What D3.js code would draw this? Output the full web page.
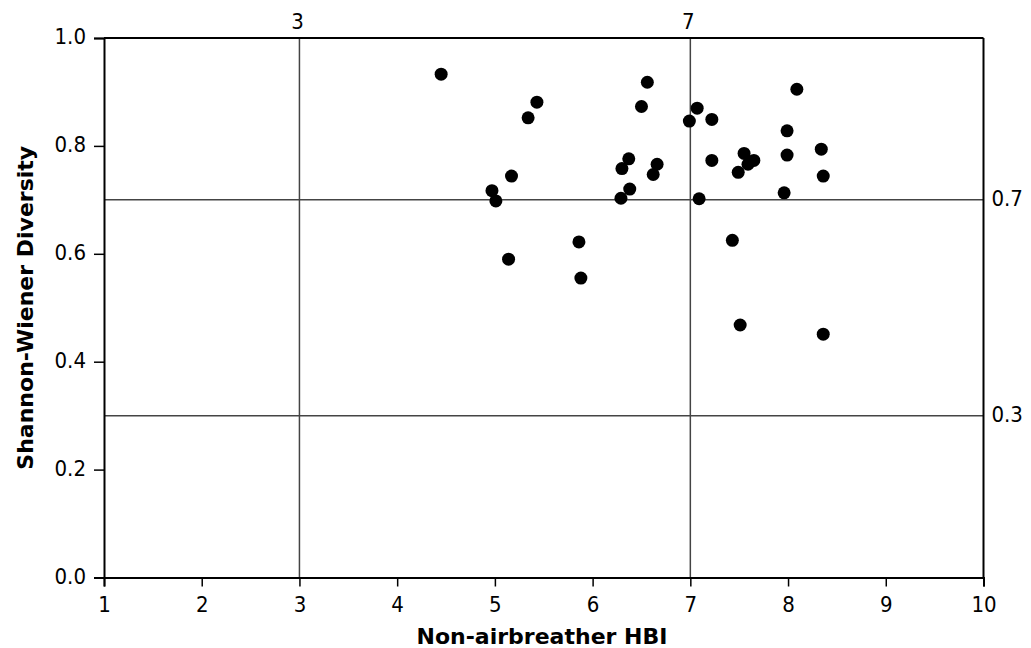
<!DOCTYPE html>
<html>
<head>
<meta charset="utf-8">
<script src="https://cdn.jsdelivr.net/npm/d3@7"></script>
<style>
  body { margin: 0; background: #fff; }
  svg { font-family: "DejaVu Sans Condensed", "DejaVu Sans", sans-serif; }
</style>
</head>
<body>
<svg id="chart"></svg>
<script>
// Non-airbreather HBI vs Shannon-Wiener diversity
const hbi = [4.45, 5.43, 5.34, 5.17, 4.97, 5.01, 5.14, 5.86, 5.88,
  6.56, 6.50, 6.37, 6.30, 6.66, 6.62, 6.38, 6.29,
  7.07, 6.99, 7.22, 7.22, 7.09,
  8.09, 7.99, 8.34, 7.99, 8.36, 7.96,
  7.55, 7.65, 7.59, 7.49, 7.43, 7.51, 8.36];
const diversity = [0.933, 0.881, 0.852, 0.744, 0.717, 0.698, 0.590, 0.622, 0.555,
  0.918, 0.873, 0.776, 0.758, 0.766, 0.747, 0.720, 0.703,
  0.870, 0.846, 0.849, 0.773, 0.702,
  0.905, 0.828, 0.794, 0.783, 0.744, 0.713,
  0.786, 0.773, 0.766, 0.751, 0.625, 0.468, 0.451];

const xTicks = [1, 2, 3, 4, 5, 6, 7, 8, 9, 10];
const yTicks = [0, 0.2, 0.4, 0.6, 0.8, 1.0];
const refX = [3, 7];     // vertical reference lines, labelled on top
const refY = [0.3, 0.7]; // horizontal reference lines, labelled on right

const width = 1031;
const height = 648;
const margin = { top: 38, right: 47.5, bottom: 70.5, left: 104 };
const labelFont = '"DejaVu Sans Condensed", "DejaVu Sans", sans-serif';
const titleFont = '"DejaVu Sans", Verdana, sans-serif';

const svg = d3.select('#chart')
  .attr('width', width)
  .attr('height', height);

const x = d3.scaleLinear().domain([1, 10]).range([margin.left, width - margin.right]);
const y = d3.scaleLinear().domain([0, 1]).range([height - margin.bottom, margin.top]);

// reference lines
svg.selectAll('.refx').data(refX).enter().append('line')
  .attr('x1', d => x(d)).attr('x2', d => x(d))
  .attr('y1', y(0)).attr('y2', y(1))
  .attr('stroke', '#444').attr('stroke-width', 1.5);

svg.selectAll('.refy').data(refY).enter().append('line')
  .attr('x1', x(1)).attr('x2', x(10))
  .attr('y1', d => y(d)).attr('y2', d => y(d))
  .attr('stroke', '#444').attr('stroke-width', 1.5);

svg.selectAll('.refxlab').data(refX).enter().append('text')
  .attr('x', d => x(d) - 2).attr('y', y(1) - 9)
  .attr('text-anchor', 'middle')
  .attr('font-size', 22)
  .text(d => d);

svg.selectAll('.refylab').data(refY).enter().append('text')
  .attr('x', x(10) + 8).attr('y', d => y(d) - 1)
  .attr('dy', '0.32em')
  .attr('font-size', 22)
  .text(d => d3.format('.1f')(d));

// frame top & right
svg.append('line')
  .attr('x1', x(1)).attr('x2', x(10)).attr('y1', y(1)).attr('y2', y(1))
  .attr('stroke', '#000').attr('stroke-width', 2);
svg.append('line')
  .attr('x1', x(10)).attr('x2', x(10)).attr('y1', y(0)).attr('y2', y(1))
  .attr('stroke', '#000').attr('stroke-width', 2);

// axes
const xAxis = svg.append('g')
  .attr('transform', `translate(0,${y(0)})`)
  .call(d3.axisBottom(x).tickValues(xTicks).tickSize(9).tickPadding(10).tickFormat(d3.format('d')));

const yAxis = svg.append('g')
  .attr('transform', `translate(${x(1)},0)`)
  .call(d3.axisLeft(y).tickValues(yTicks).tickSize(10).tickPadding(8).tickFormat(d3.format('.1f')));

[xAxis, yAxis].forEach(g => {
  g.select('.domain').attr('stroke', '#000').attr('stroke-width', 2);
  g.selectAll('.tick line').attr('stroke', '#000').attr('stroke-width', 1.5);
  g.selectAll('.tick text').attr('fill', '#000').attr('font-size', 22)
    .attr('font-family', labelFont);
});
yAxis.selectAll('.tick text').attr('dy', '0.25em');

// points
svg.selectAll('circle').data(hbi).enter().append('circle')
  .attr('cx', d => x(d))
  .attr('cy', (d, i) => y(diversity[i]))
  .attr('r', 6.5)
  .attr('fill', '#000');

// axis titles
svg.append('text')
  .attr('x', 542).attr('y', 644)
  .attr('text-anchor', 'middle')
  .attr('font-family', titleFont)
  .attr('font-size', 22).attr('font-weight', 'bold')
  .text('Non-airbreather HBI');

svg.append('text')
  .attr('transform', `translate(33,${(y(0) + y(1)) / 2}) rotate(-90)`)
  .attr('text-anchor', 'middle')
  .attr('font-family', titleFont)
  .attr('font-size', 22).attr('font-weight', 'bold')
  .text('Shannon-Wiener Diversity');
</script>
</body>
</html>
